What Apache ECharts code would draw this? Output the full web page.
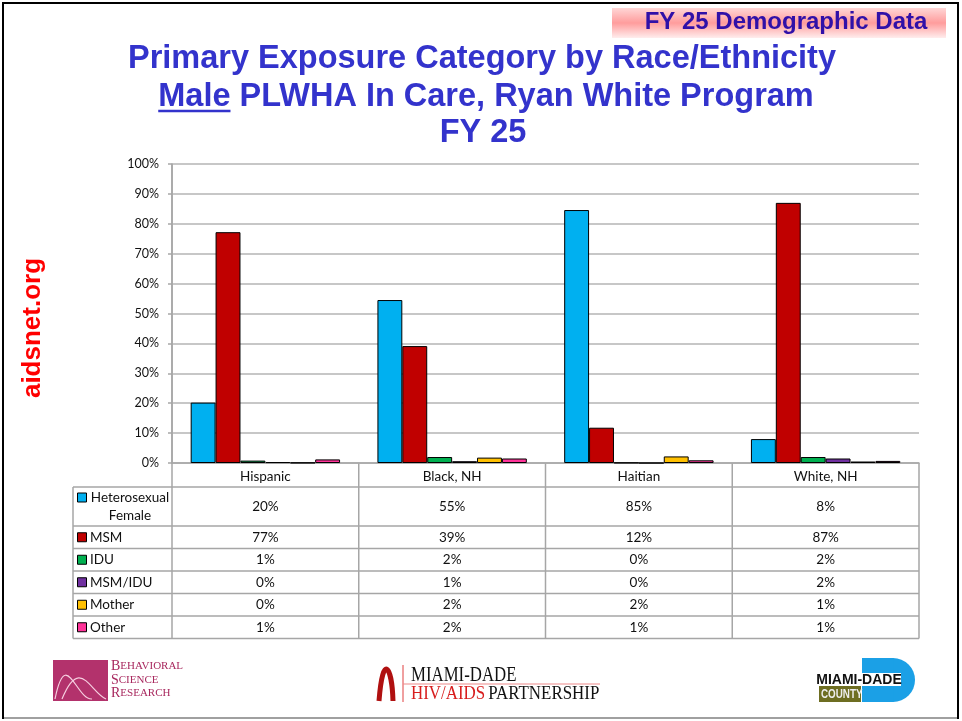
<!DOCTYPE html>
<html>
<head>
<meta charset="utf-8">
<script src="https://cdn.jsdelivr.net/npm/echarts@6/dist/echarts.min.js"></script>
<style>
  html, body { margin: 0; padding: 0; background: #ffffff; }
  #chart { width: 962px; height: 721px; }
</style>
</head>
<body>
<div id="chart"></div>
<script>
// categories and series (percent of male PLWHA in care)
const categories = ["Hispanic", "Black, NH", "Haitian", "White, NH"];
const seriesNames = ["Heterosexual Female", "MSM", "IDU", "MSM/IDU", "Mother", "Other"];
const heteroFemale = [20.2, 54.5, 84.6, 8.0];
const msm = [77.2, 39.1, 11.8, 87.0];
const idu = [0.8, 2.0, 0.1, 2.0];
const msmIdu = [0.3, 0.6, 0.0, 1.5];
const mother = [0.1, 1.8, 2.2, 0.5];
const other = [1.2, 1.5, 0.9, 0.7];
const yTicks = [0, 10, 20, 30, 40, 50, 60, 70, 80, 90, 100];

const allSeries = [heteroFemale, msm, idu, msmIdu, mother, other];
const colors = ["#00B0F0", "#C00000", "#00B050", "#7030A0", "#FFC000", "#FF3399"];

// layout
const W = 962, H = 721;
const gridLeft = 172, gridRight = 43, gridTop = 164, gridBottom = 258;
const axisY = H - gridBottom;
const tableLeft = 73;
const tableRight = W - gridRight;
const colW = (tableRight - gridLeft) / categories.length;
const headerH = 24;
const rowHeights = [39, 22.5, 22.5, 22.5, 22.5, 22.5];
const lineCol = "#A6A6A6";
const cellFont = "Lato, 'Open Sans', sans-serif";
const titleFont = "bold 32.5px 'Liberation Sans', Arial, sans-serif";
const titleCol = "#3333CC";

// measure title line 2 to put the underline under "Male"
const measureCtx = document.createElement("canvas").getContext("2d");
measureCtx.font = titleFont;
const line2 = "Male PLWHA In Care, Ryan White Program";
const line2Center = 486;
const line2Start = line2Center - measureCtx.measureText(line2).width / 2;
const maleWidth = measureCtx.measureText("Male").width;

let myChart = echarts.init(document.getElementById("chart"));

// data table under the plot
let graphics = [];
let rowTops = [axisY + headerH];
rowHeights.forEach((h, i) => rowTops.push(rowTops[i] + h));
const tableBottom = rowTops[rowTops.length - 1];

rowTops.forEach((y) => {
  graphics.push({
    type: "line",
    shape: { x1: tableLeft, y1: y, x2: tableRight, y2: y },
    style: { stroke: lineCol, lineWidth: 1.5 },
  });
});
graphics.push({
  type: "line",
  shape: { x1: tableLeft, y1: rowTops[0], x2: tableLeft, y2: tableBottom },
  style: { stroke: lineCol, lineWidth: 1.5 },
});
for (let c = 0; c <= categories.length; c++) {
  let x = gridLeft + c * colW;
  graphics.push({
    type: "line",
    shape: { x1: x, y1: c === 0 ? gridTop : axisY, x2: x, y2: tableBottom },
    style: { stroke: lineCol, lineWidth: 1.5 },
  });
}
seriesNames.forEach((name, r) => {
  let top = rowTops[r];
  let h = rowHeights[r];
  let cy = top + h / 2;
  let keyY = r === 0 ? top + 6 : cy - 4.5;
  graphics.push({
    type: "rect",
    shape: { x: 77.5, y: keyY, width: 9, height: 9 },
    style: { fill: colors[r], stroke: "#000", lineWidth: 1 },
  });
  if (r === 0) {
    graphics.push({
      type: "text",
      x: 130,
      y: top + 2,
      style: {
        text: "Heterosexual\nFemale",
        align: "center",
        verticalAlign: "top",
        lineHeight: 18,
        font: "13.5px " + cellFont,
        fill: "#111",
      },
    });
  } else {
    graphics.push({
      type: "text",
      x: 90,
      y: cy,
      style: {
        text: name,
        align: "left",
        verticalAlign: "middle",
        font: "13.5px " + cellFont,
        fill: "#111",
      },
    });
  }
  allSeries[r].forEach((v, c) => {
    graphics.push({
      type: "text",
      x: gridLeft + (c + 0.5) * colW,
      y: cy,
      style: {
        text: Math.round(v) + "%",
        align: "center",
        verticalAlign: "middle",
        font: "13.5px " + cellFont,
        fill: "#111",
      },
    });
  });
});

// slide decorations: frame, header box, titles, side text, logos
graphics.push(
  {
    type: "rect",
    shape: { x: 3, y: 3, width: 955, height: 715 },
    style: { fill: null, stroke: "#000", lineWidth: 2 },
  },
  {
    type: "rect",
    shape: { x: 612, y: 8, width: 334, height: 30 },
    style: {
      fill: new echarts.graphic.LinearGradient(0, 0, 0, 1, [
        { offset: 0, color: "#FFD6D6" },
        { offset: 0.5, color: "#FF9C9C" },
        { offset: 1, color: "#FFEDED" },
      ]),
    },
  },
  {
    type: "text",
    x: 786,
    y: 22,
    style: {
      text: "FY 25 Demographic Data",
      align: "center",
      verticalAlign: "middle",
      font: "bold 24px 'Liberation Sans', Arial, sans-serif",
      fill: "#3010A8",
    },
  },
  {
    type: "text",
    x: 482,
    y: 59,
    style: {
      text: "Primary Exposure Category by Race/Ethnicity",
      align: "center",
      verticalAlign: "middle",
      font: titleFont,
      fill: titleCol,
    },
  },
  {
    type: "text",
    x: line2Center,
    y: 97,
    style: {
      text: line2,
      align: "center",
      verticalAlign: "middle",
      font: titleFont,
      fill: titleCol,
    },
  },
  {
    type: "line",
    shape: { x1: line2Start, y1: 111, x2: line2Start + maleWidth, y2: 111 },
    style: { stroke: titleCol, lineWidth: 2.5 },
  },
  {
    type: "text",
    x: 483,
    y: 133,
    style: {
      text: "FY 25",
      align: "center",
      verticalAlign: "middle",
      font: titleFont,
      fill: titleCol,
    },
  },
  {
    type: "text",
    x: 33,
    y: 328,
    rotation: Math.PI / 2,
    style: {
      text: "aidsnet.org",
      align: "center",
      verticalAlign: "middle",
      font: "bold 26px 'Liberation Sans', Arial, sans-serif",
      fill: "#FF0000",
    },
  },
  // Behavioral Science Research logo
  {
    type: "rect",
    shape: { x: 53, y: 660, width: 55, height: 41 },
    style: { fill: "#B3326C" },
  },
  {
    type: "bezierCurve",
    shape: { x1: 55, y1: 699, x2: 92, y2: 699, cpx1: 66, cpy1: 645, cpx2: 76, cpy2: 700 },
    style: { stroke: "#F6CFE0", lineWidth: 1.2, fill: null },
  },
  {
    type: "bezierCurve",
    shape: { x1: 62, y1: 699, x2: 106, y2: 699, cpx1: 80, cpy1: 655, cpx2: 90, cpy2: 692 },
    style: { stroke: "#F6CFE0", lineWidth: 1.2, fill: null },
  },
  {
    type: "text",
    x: 111,
    y: 680,
    style: {
      text: "{a|B}{b|EHAVIORAL}\n{a|S}{b|CIENCE}\n{a|R}{b|ESEARCH}",
      align: "left",
      verticalAlign: "middle",
      lineHeight: 13.5,
      rich: {
        a: { font: "14px 'Liberation Serif', serif", fill: "#A8285E", lineHeight: 13.5 },
        b: { font: "11px 'Liberation Serif', serif", fill: "#A8285E", lineHeight: 13.5 },
      },
    },
  },
  // HIV/AIDS Partnership logo
  {
    type: "bezierCurve",
    shape: { x1: 379, y1: 701, x2: 393, y2: 701, cpx1: 383, cpy1: 650, cpx2: 392, cpy2: 668 },
    style: { stroke: "#B01010", lineWidth: 5, fill: null },
  },
  {
    type: "line",
    shape: { x1: 403, y1: 665, x2: 403, y2: 702 },
    style: { stroke: "#E04040", lineWidth: 1 },
  },
  {
    type: "text",
    x: 411,
    y: 676,
    scaleX: 0.84,
    style: {
      text: "MIAMI-DADE",
      align: "left",
      verticalAlign: "middle",
      font: "20px 'Liberation Serif', serif",
      fill: "#111",
    },
  },
  {
    type: "line",
    shape: { x1: 403, y1: 684, x2: 600, y2: 684 },
    style: { stroke: "#EE8A8A", lineWidth: 1.2 },
  },
  {
    type: "text",
    x: 411,
    y: 694,
    scaleX: 0.89,
    style: {
      text: "{r|HIV/AIDS} {b|PARTNERSHIP}",
      align: "left",
      verticalAlign: "middle",
      rich: {
        r: { font: "19px 'Liberation Serif', serif", fill: "#D81E1E" },
        b: { font: "19px 'Liberation Serif', serif", fill: "#111" },
      },
    },
  },
  // Miami-Dade County logo
  {
    type: "sector",
    shape: { cx: 893, cy: 680, r0: 0, r: 22, startAngle: -Math.PI / 2, endAngle: Math.PI / 2 },
    style: { fill: "#1BA0E6" },
  },
  {
    type: "rect",
    shape: { x: 862, y: 658, width: 31.5, height: 44 },
    style: { fill: "#1BA0E6" },
  },
  {
    type: "rect",
    shape: { x: 819, y: 673, width: 82, height: 13 },
    style: { fill: "#FFFFFF" },
  },
  {
    type: "text",
    x: 859,
    y: 680,
    style: {
      text: "MIAMI-DADE",
      align: "center",
      verticalAlign: "middle",
      font: "bold 14px 'Liberation Sans Narrow', 'Liberation Sans', Arial, sans-serif",
      fill: "#111",
    },
  },
  {
    type: "rect",
    shape: { x: 819, y: 686, width: 42, height: 16 },
    style: { fill: "#6E6E22" },
  },
  {
    type: "text",
    x: 821,
    y: 694.5,
    scaleX: 0.82,
    style: {
      text: "COUNTY",
      align: "left",
      verticalAlign: "middle",
      font: "bold 12px 'Liberation Sans', Arial, sans-serif",
      fill: "#EEEEEE",
    },
  },
  {
    type: "line",
    shape: { x1: 4, y1: 718, x2: 957, y2: 718 },
    style: { stroke: "#A0A0A0", lineWidth: 2 },
  }
);

let option = {
  backgroundColor: "#ffffff",
  animation: false,
  grid: {
    left: gridLeft,
    right: gridRight,
    top: gridTop,
    bottom: gridBottom,
  },
  xAxis: {
    type: "category",
    data: categories,
    axisLine: { show: true, lineStyle: { color: lineCol, width: 1.5 } },
    axisTick: { show: false },
    axisLabel: {
      margin: 7,
      fontSize: 13.5,
      color: "#111",
      fontFamily: cellFont,
    },
  },
  yAxis: {
    type: "value",
    min: yTicks[0],
    max: yTicks[yTicks.length - 1],
    interval: yTicks[1] - yTicks[0],
    axisLine: { show: true, lineStyle: { color: lineCol, width: 1.5 } },
    axisTick: { show: true, length: 4, lineStyle: { color: lineCol, width: 1.5 } },
    axisLabel: {
      formatter: "{value}%",
      margin: 13,
      fontSize: 12.5,
      color: "#111",
      fontFamily: cellFont,
    },
    splitLine: { show: true, lineStyle: { color: "#B5B5B5", width: 1.5 } },
  },
  series: seriesNames.map((name, i) => ({
    name: name,
    type: "bar",
    data: allSeries[i],
    barGap: "0%",
    barCategoryGap: "20%",
    itemStyle: { color: colors[i], borderColor: "#000", borderWidth: 1 },
  })),
  graphic: graphics,
};

myChart.setOption(option);
</script>
</body>
</html>
